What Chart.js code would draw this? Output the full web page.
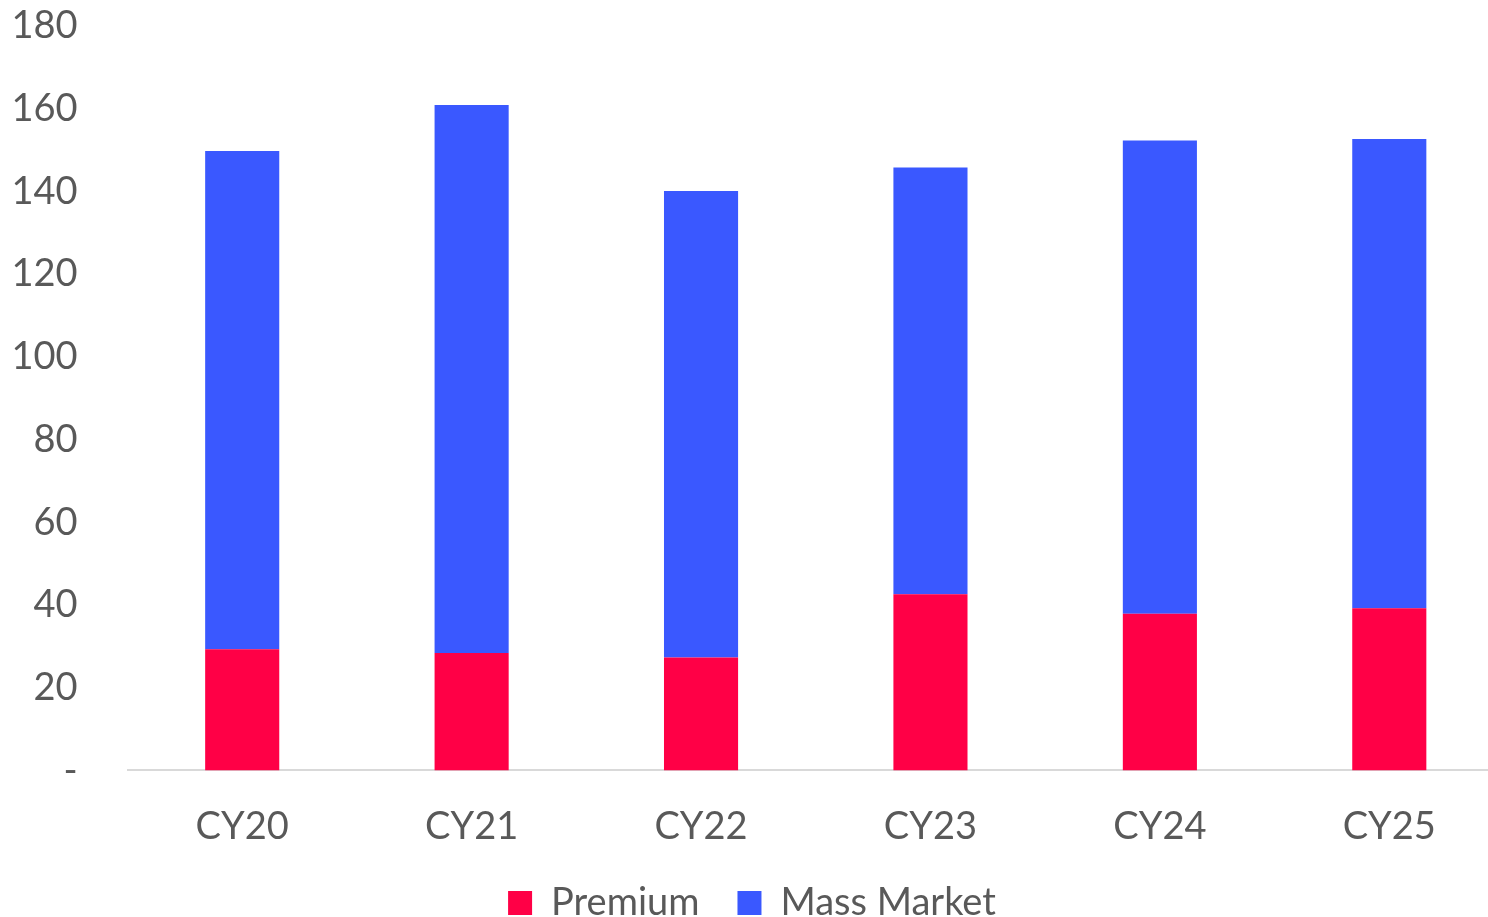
<!DOCTYPE html>
<html>
<head>
<meta charset="utf-8">
<script src="https://cdn.jsdelivr.net/npm/chart.js@4/dist/chart.umd.min.js"></script>
<style>
  html, body { margin: 0; padding: 0; background: #fff; overflow: hidden; }
  .wrap { position: relative; width: 1504px; height: 917px; }
</style>
</head>
<body>
<div class="wrap"><canvas id="chart"></canvas></div>
<script>
const years = ["CY20", "CY21", "CY22", "CY23", "CY24", "CY25"];
const premium = [29.3, 28.4, 27.3, 42.6, 37.9, 39.2];
const massMarket = [120.5, 132.5, 112.8, 103.2, 114.4, 113.5];
const yTicks = [0, 20, 40, 60, 80, 100, 120, 140, 160, 180];

const textColor = "#595959";
const font = { family: "Lato, 'Open Sans', sans-serif", size: 38 };

const ctx = document.getElementById("chart");

new Chart(ctx, {
  type: "bar",
  data: {
    labels: years,
    datasets: [
      {
        label: "Premium",
        data: premium,
        backgroundColor: "#ff0046",
        borderWidth: 0,
      },
      {
        label: "Mass Market",
        data: massMarket,
        backgroundColor: "#3a58ff",
        borderWidth: 0,
      },
    ],
  },
  options: {
    responsive: true,
    maintainAspectRatio: false,
    animation: false,
    layout: { padding: { top: 26, bottom: -15 } },
    datasets: {
      bar: { categoryPercentage: 1, barPercentage: 0.323 },
    },
    plugins: {
      tooltip: { enabled: false },
      legend: {
        position: "bottom",
        labels: {
          color: textColor,
          font: font,
          boxWidth: 24,
          boxHeight: 24,
          padding: 38,
        },
      },
    },
    scales: {
      x: {
        stacked: true,
        grid: { display: false, drawTicks: false },
        border: { display: true, color: "#d9d9d9", width: 2 },
        afterFit: (scale) => { scale.height -= 38; },
        ticks: { color: textColor, font: font, padding: 34 },
      },
      y: {
        stacked: true,
        min: 0,
        max: 180,
        grid: { display: false, drawTicks: false },
        border: { display: false },
        afterFit: (scale) => {
          // labels sit left of the plot, so keep the padding out of the vertical extent
          scale.width = 127.5;
          scale.paddingTop = 0;
          scale.paddingBottom = 0;
        },
        afterBuildTicks: (scale) => {
          scale.ticks = yTicks.map((v) => ({ value: v }));
        },
        ticks: {
          color: textColor,
          font: font,
          padding: 50,
          callback: (v) => (v === 0 ? "-" : v),
        },
      },
    },
  },
});
</script>
</body>
</html>
